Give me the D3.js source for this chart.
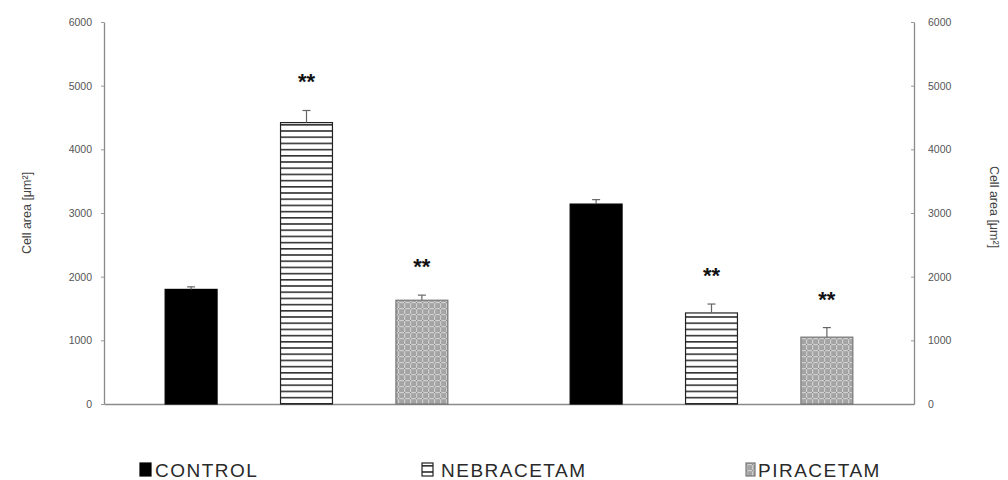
<!DOCTYPE html>
<html><head><meta charset="utf-8">
<script src="https://cdn.jsdelivr.net/npm/d3@7"></script>
<style>
body{margin:0;background:#fff;}
svg{display:block;font-family:"Liberation Sans",Arial,sans-serif;}
</style></head>
<body>
<svg id="chart" width="1008" height="480"></svg>
<script>
const groups = ["G1", "G2"];
const series = ["CONTROL", "NEBRACETAM", "PIRACETAM"];
const meansG1 = [1800, 4420, 1630];
const meansG2 = [3140, 1430, 1050];
const errorsG1 = [40, 190, 80];
const errorsG2 = [70, 140, 150];
const sigG1 = ["", "**", "**"];
const sigG2 = ["", "**", "**"];
const yTicks = [0, 1000, 2000, 3000, 4000, 5000, 6000];
const yLabel = "Cell area [μm²]";

const data = [];
groups.forEach((g, gi) => {
  const m = gi === 0 ? meansG1 : meansG2;
  const e = gi === 0 ? errorsG1 : errorsG2;
  const s = gi === 0 ? sigG1 : sigG2;
  series.forEach((k, i) => data.push({group: g, key: k, value: m[i], err: e[i], sig: s[i]}));
});

const svg = d3.select("#chart");
const mLeft = 104, mRight = 914, mTop = 22, mBottom = 404;

const defs = svg.append("defs");
const hp = defs.append("pattern").attr("id", "hstripe").attr("patternUnits", "userSpaceOnUse")
  .attr("width", 6).attr("height", 6.2);
hp.append("rect").attr("width", 6).attr("height", 6.2).attr("fill", "#fff");
hp.append("rect").attr("y", 0).attr("width", 6).attr("height", 1.6).attr("fill", "#333");
const dp = defs.append("pattern").attr("id", "dots").attr("patternUnits", "userSpaceOnUse")
  .attr("width", 6).attr("height", 6);
dp.append("rect").attr("width", 6).attr("height", 6).attr("fill", "#a4a4a4");
dp.append("rect").attr("x", 0).attr("y", 2).attr("width", 6).attr("height", 1.2).attr("fill", "#cfcfcf");
dp.append("rect").attr("x", 2).attr("y", 0).attr("width", 1.2).attr("height", 6).attr("fill", "#cfcfcf");
dp.append("rect").attr("x", 2).attr("y", 2).attr("width", 1.2).attr("height", 1.2).attr("fill", "#8a8a8a");

const fills = {CONTROL: "#000", NEBRACETAM: "url(#hstripe)", PIRACETAM: "url(#dots)"};
const strokes = {CONTROL: "#000", NEBRACETAM: "#222", PIRACETAM: "#777"};

const y = d3.scaleLinear().domain([0, 6000]).range([mBottom, mTop]);
const x0 = d3.scaleBand().domain(groups).range([mLeft, mRight]);
const x1 = d3.scaleBand().domain(series).range([0, x0.bandwidth()]).paddingInner(0.55).paddingOuter(0.53);

// axes
const axL = svg.append("g").attr("transform", `translate(${mLeft},0)`)
  .call(d3.axisLeft(y).tickValues(yTicks).tickFormat(d3.format("d")).tickSize(3).tickPadding(9).tickSizeOuter(0));
const axR = svg.append("g").attr("transform", `translate(${mRight},0)`)
  .call(d3.axisRight(y).tickValues(yTicks).tickFormat(d3.format("d")).tickSize(-3).tickPadding(14).tickSizeOuter(0));
[axL, axR].forEach(a => {
  a.select(".domain").attr("stroke", "#8a8a8a").attr("stroke-width", 1.3);
  a.selectAll(".tick line").attr("stroke", "#999");
  a.selectAll(".tick text").attr("fill", "#555").style("font-size", "10.5px");
});
svg.append("g").attr("transform", `translate(0,${mBottom})`)
  .call(d3.axisBottom(x0).tickSize(0).tickFormat(""))
  .select(".domain").attr("stroke", "#8a8a8a").attr("stroke-width", 1.3);

svg.append("text").attr("transform", `translate(31,213) rotate(-90)`)
  .attr("text-anchor", "middle").attr("fill", "#444").style("font-size", "12.5px").text(yLabel);
svg.append("text").attr("transform", `translate(990,207) rotate(90)`)
  .attr("text-anchor", "middle").attr("fill", "#444").style("font-size", "12.5px").text(yLabel);

// bars
const bx = d => x0(d.group) + x1(d.key);
const bw = x1.bandwidth();
svg.append("g").selectAll("rect").data(data).join("rect")
  .attr("x", bx).attr("width", bw)
  .attr("y", d => y(d.value)).attr("height", d => y(0) - y(d.value))
  .attr("fill", d => fills[d.key]).attr("stroke", d => strokes[d.key]).attr("stroke-width", 1.2);

// error bars (upper)
const eg = svg.append("g").attr("stroke", "#666").attr("stroke-width", 1.2);
eg.selectAll("line.v").data(data).join("line").attr("class", "v")
  .attr("x1", d => bx(d) + bw / 2).attr("x2", d => bx(d) + bw / 2)
  .attr("y1", d => y(d.value)).attr("y2", d => y(d.value + d.err));
eg.selectAll("line.c").data(data).join("line").attr("class", "c")
  .attr("x1", d => bx(d) + bw / 2 - 4).attr("x2", d => bx(d) + bw / 2 + 4)
  .attr("y1", d => y(d.value + d.err)).attr("y2", d => y(d.value + d.err));

// significance
svg.append("g").selectAll("text").data(data.filter(d => d.sig)).join("text")
  .attr("x", d => bx(d) + bw / 2).attr("y", d => y(d.value + d.err) - 21)
  .attr("text-anchor", "middle").attr("fill", "#111").style("font-size", "22px").style("font-weight", "bold")
  .text(d => d.sig);

// legend
const legX = {CONTROL: 140, NEBRACETAM: 422, PIRACETAM: 746};
const legT = {CONTROL: 155, NEBRACETAM: 441, PIRACETAM: 758};
const lg = svg.append("g");
series.forEach(k => {
  lg.append("rect").attr("x", legX[k]).attr("y", 463).attr("width", k === "PIRACETAM" ? 9 : 11).attr("height", 13)
    .attr("fill", fills[k]).attr("stroke", strokes[k]).attr("stroke-width", 1.2);
  lg.append("text").attr("x", legT[k]).attr("y", 476.5).attr("fill", "#2a2a2a")
    .style("font-size", "19px").style("letter-spacing", "1.5px").text(k);
});
</script>
</body></html>
